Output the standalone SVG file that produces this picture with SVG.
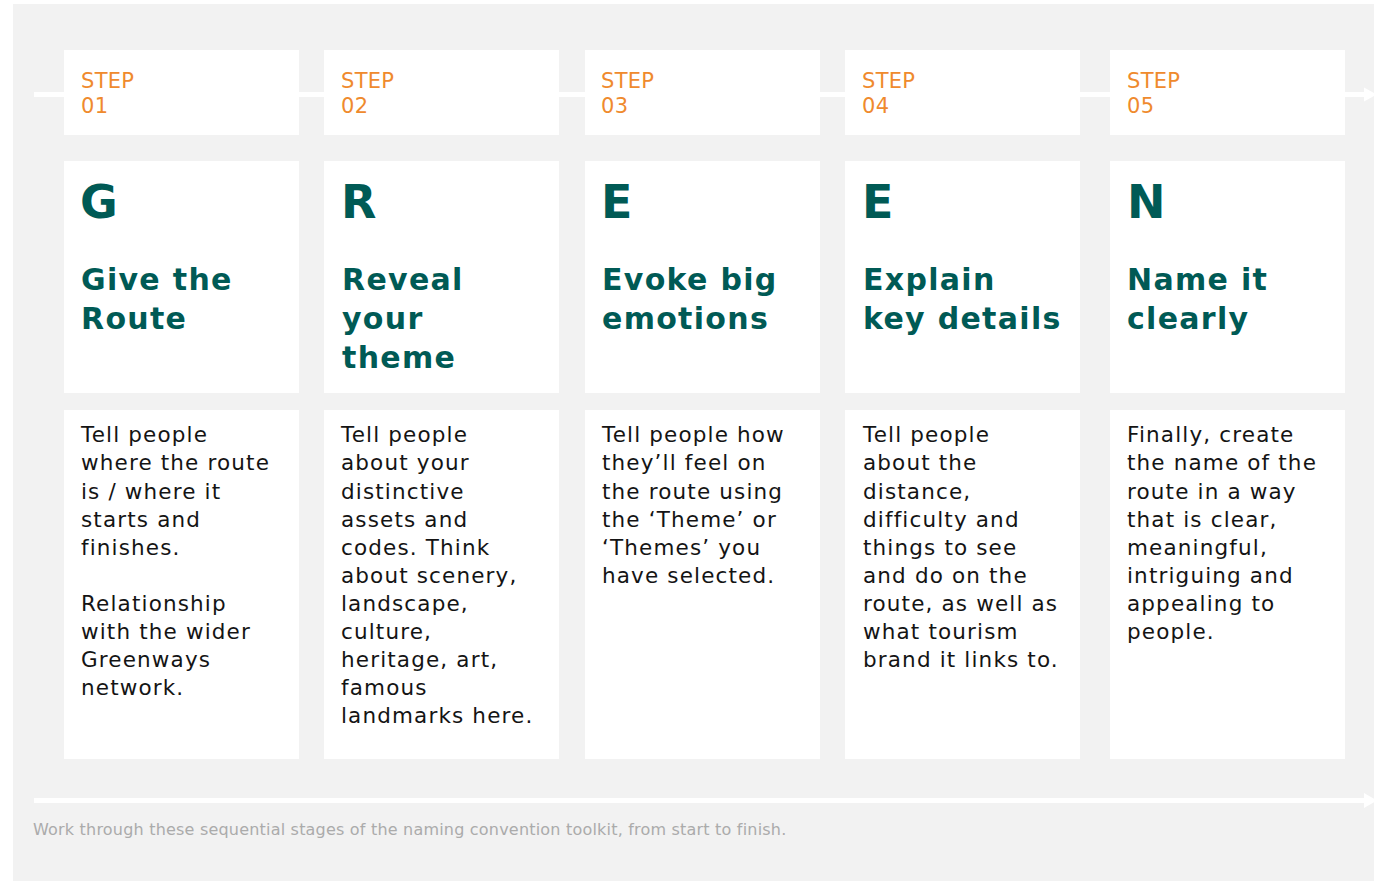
<svg xmlns="http://www.w3.org/2000/svg" width="1374" height="881" viewBox="0 0 1374 881">
  <style>
    .panel { fill: #ffffff; }
    .step { font-family: "DejaVu Sans", Verdana, sans-serif; font-size: 21px; letter-spacing: 0.3px; fill: #ef8a2d; }
    .letter { font-family: "DejaVu Sans", Verdana, sans-serif; font-weight: bold; font-size: 46px; fill: #005a55; }
    .title { font-family: "DejaVu Sans", Verdana, sans-serif; font-weight: bold; font-size: 30px; letter-spacing: 1.3px; fill: #005a55; }
    .body { font-family: "DejaVu Sans", Verdana, sans-serif; font-size: 21.5px; letter-spacing: 1.15px; fill: #141414; }
    .caption { font-family: "DejaVu Sans", Verdana, sans-serif; font-size: 16px; letter-spacing: 0.2px; fill: #ababab; }
    .track { stroke: #ffffff; stroke-width: 5; fill: none; }
    .head { fill: #ffffff; }
  </style>

  <!-- backdrop -->
  <rect x="13" y="4" width="1361" height="877" fill="#f2f2f2"/>

  <!-- flow arrows running behind the cards -->
  <g id="connectors">
    <line class="track" x1="34" y1="94.5" x2="1365" y2="94.5"/>
    <polygon class="head" points="1364,87.5 1377,94.5 1364,101.5"/>
    <line class="track" x1="34" y1="800.5" x2="1365" y2="800.5"/>
    <polygon class="head" points="1364,793 1377,800.5 1364,808"/>
  </g>

  <g id="step-01">
    <rect class="panel" x="64" y="50" width="235" height="85"/>
    <text class="step" x="81" y="88">STEP<tspan x="81" dy="25">01</tspan></text>
    <rect class="panel" x="64" y="161" width="235" height="232"/>
    <text class="letter" x="80" y="217.5">G</text>
    <text class="title" x="81" y="289.5">Give the<tspan x="81" dy="39">Route</tspan></text>
    <rect class="panel" x="64" y="410" width="235" height="349"/>
    <text class="body" x="81" y="442.3">Tell people<tspan x="81" dy="28.1">where the route</tspan><tspan x="81" dy="28.1">is / where it</tspan><tspan x="81" dy="28.1">starts and</tspan><tspan x="81" dy="28.1">finishes.</tspan><tspan x="81" dy="56.2">Relationship</tspan><tspan x="81" dy="28.1">with the wider</tspan><tspan x="81" dy="28.1">Greenways</tspan><tspan x="81" dy="28.1">network.</tspan></text>
  </g>

  <g id="step-02">
    <rect class="panel" x="324" y="50" width="235" height="85"/>
    <text class="step" x="341" y="88">STEP<tspan x="341" dy="25">02</tspan></text>
    <rect class="panel" x="324" y="161" width="235" height="232"/>
    <text class="letter" x="341" y="217.5">R</text>
    <text class="title" x="342" y="289.5">Reveal<tspan x="342" dy="39">your</tspan><tspan x="342" dy="39">theme</tspan></text>
    <rect class="panel" x="324" y="410" width="235" height="349"/>
    <text class="body" x="341" y="442.3">Tell people<tspan x="341" dy="28.1">about your</tspan><tspan x="341" dy="28.1">distinctive</tspan><tspan x="341" dy="28.1">assets and</tspan><tspan x="341" dy="28.1">codes. Think</tspan><tspan x="341" dy="28.1">about scenery,</tspan><tspan x="341" dy="28.1">landscape,</tspan><tspan x="341" dy="28.1">culture,</tspan><tspan x="341" dy="28.1">heritage, art,</tspan><tspan x="341" dy="28.1">famous</tspan><tspan x="341" dy="28.1">landmarks here.</tspan></text>
  </g>

  <g id="step-03">
    <rect class="panel" x="585" y="50" width="235" height="85"/>
    <text class="step" x="601" y="88">STEP<tspan x="601" dy="25">03</tspan></text>
    <rect class="panel" x="585" y="161" width="235" height="232"/>
    <text class="letter" x="601" y="217.5">E</text>
    <text class="title" x="602" y="289.5">Evoke big<tspan x="602" dy="39">emotions</tspan></text>
    <rect class="panel" x="585" y="410" width="235" height="349"/>
    <text class="body" x="602" y="442.3">Tell people how<tspan x="602" dy="28.1">they’ll feel on</tspan><tspan x="602" dy="28.1">the route using</tspan><tspan x="602" dy="28.1">the ‘Theme’ or</tspan><tspan x="602" dy="28.1">‘Themes’ you</tspan><tspan x="602" dy="28.1">have selected.</tspan></text>
  </g>

  <g id="step-04">
    <rect class="panel" x="845" y="50" width="235" height="85"/>
    <text class="step" x="862" y="88">STEP<tspan x="862" dy="25">04</tspan></text>
    <rect class="panel" x="845" y="161" width="235" height="232"/>
    <text class="letter" x="862" y="217.5">E</text>
    <text class="title" x="863" y="289.5">Explain<tspan x="863" dy="39">key details</tspan></text>
    <rect class="panel" x="845" y="410" width="235" height="349"/>
    <text class="body" x="863" y="442.3">Tell people<tspan x="863" dy="28.1">about the</tspan><tspan x="863" dy="28.1">distance,</tspan><tspan x="863" dy="28.1">difficulty and</tspan><tspan x="863" dy="28.1">things to see</tspan><tspan x="863" dy="28.1">and do on the</tspan><tspan x="863" dy="28.1">route, as well as</tspan><tspan x="863" dy="28.1">what tourism</tspan><tspan x="863" dy="28.1">brand it links to.</tspan></text>
  </g>

  <g id="step-05">
    <rect class="panel" x="1110" y="50" width="235" height="85"/>
    <text class="step" x="1127" y="88">STEP<tspan x="1127" dy="25">05</tspan></text>
    <rect class="panel" x="1110" y="161" width="235" height="232"/>
    <text class="letter" x="1127" y="217.5">N</text>
    <text class="title" x="1127" y="289.5">Name it<tspan x="1127" dy="39">clearly</tspan></text>
    <rect class="panel" x="1110" y="410" width="235" height="349"/>
    <text class="body" x="1127" y="442.3">Finally, create<tspan x="1127" dy="28.1">the name of the</tspan><tspan x="1127" dy="28.1">route in a way</tspan><tspan x="1127" dy="28.1">that is clear,</tspan><tspan x="1127" dy="28.1">meaningful,</tspan><tspan x="1127" dy="28.1">intriguing and</tspan><tspan x="1127" dy="28.1">appealing to</tspan><tspan x="1127" dy="28.1">people.</tspan></text>
  </g>

  <text class="caption" x="33" y="835">Work through these sequential stages of the naming convention toolkit, from start to finish.</text>
</svg>
